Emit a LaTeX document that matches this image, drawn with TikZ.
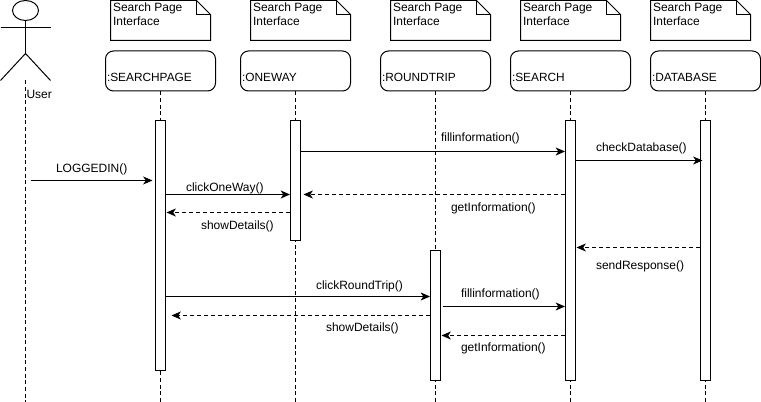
\documentclass[tikz,border=0pt]{standalone}
\usepackage{fontspec}
\setmainfont{Liberation Sans}
\usetikzlibrary{arrows.meta}
\tikzset{
	notetext/.style={anchor=north west,inner sep=0pt,align=left,font=\fontsize{9pt}{10.5pt}\selectfont},
	headbox/.style={draw,rounded corners=6pt,minimum height=30pt,inner sep=0pt,anchor=north},
	headtext/.style={anchor=base west,inner sep=0pt,font=\fontsize{8.9pt}{10.5pt}\selectfont},
	msgtext/.style={anchor=base west,inner sep=0pt,font=\fontsize{9pt}{10.5pt}\selectfont},
	lifebar/.style={draw,fill=white,minimum width=7.5pt,inner sep=0pt,anchor=north},
	lifeline/.style={densely dashed,dash pattern=on 3pt off 2pt},
	msgcall/.style={-{Stealth[length=7pt,width=6pt,inset=2pt]}},
	msgback/.style={msgcall,dash pattern=on 3pt off 2.2pt},
}
\newcommand{\notesheet}[2]{%
	\draw (#1,0) -- ++(86,0) -- ++(14,14) -- (#1+100,40) -- (#1,40) -- cycle;
	\draw (#1+86,0) -- ++(0,14) -- ++(14,0);
	\node[notetext] (#2) at (#1+2,1.5) {Search Page\\Interface};
}
\begin{document}
\begin{tikzpicture}[x=.75pt,y=-.75pt,line width=.75pt]
	\useasboundingbox (-.5,-.5) rectangle (760.5,401.5);
	% actor
	\draw (25,10) ellipse (13 and 10);
	\draw (0,27) -- (50,27);
	\draw (25,20) -- (25,53);
	\draw (0,80) -- (25,53) -- (50,80);
	\node[msgtext] (usertext) at (25.5,98) {User};
	\coordinate (userTop) at (25,80);
	\coordinate (userEnd) at (25,402);
	% notes
	\notesheet{110}{noteSearchpage}
	\notesheet{250}{noteOneway}
	\notesheet{390}{noteRoundtrip}
	\notesheet{520}{noteSearch}
	\notesheet{650}{noteDatabase}
	% heads
	\node[headbox,minimum width=82.5pt] (searchpage) at (160,50) {};
	\node[headbox,minimum width=82.5pt] (oneway) at (295,50) {};
	\node[headbox,minimum width=82.5pt] (roundtrip) at (435,50) {};
	\node[headbox,minimum width=90pt] (search) at (570,50) {};
	\node[headbox,minimum width=82.5pt] (database) at (705,50) {};
	\node[headtext] (searchpagetext) at (106,81) {:SEARCHPAGE};
	\node[headtext] (onewaytext) at (241,81) {:ONEWAY};
	\node[headtext] (roundtriptext) at (381,81) {:ROUNDTRIP};
	\node[headtext] (searchtext) at (511,81) {:SEARCH};
	\node[headtext] (databasetext) at (651,81) {:DATABASE};
	% lifelines
	\coordinate (searchpageEnd) at (160,402);
	\coordinate (onewayEnd) at (295,402);
	\coordinate (roundtripEnd) at (435,402);
	\coordinate (searchEnd) at (570,402);
	\coordinate (databaseEnd) at (705,402);
	\draw[lifeline] (userTop) -- (userEnd);
	\draw[lifeline] (searchpage.south) -- (searchpageEnd);
	\draw[lifeline] (oneway.south) -- (onewayEnd);
	\draw[lifeline] (roundtrip.south) -- (roundtripEnd);
	\draw[lifeline] (search.south) -- (searchEnd);
	\draw[lifeline] (database.south) -- (databaseEnd);
	% bars
	\node[lifebar,minimum height=187.5pt] (barSearchpage) at (160,120) {};
	\node[lifebar,minimum height=90pt] (barOneway) at (295,120) {};
	\node[lifebar,minimum height=97.5pt] (barRoundtrip) at (435,250) {};
	\node[lifebar,minimum height=195pt] (barSearch) at (570,120) {};
	\node[lifebar,minimum height=195pt] (barDatabase) at (705,120) {};
	% free ends of the messages
	\coordinate (loggedStart) at (30,180);
	\coordinate (loggedEnd) at (152,180);
	\coordinate (checkEnd) at (702,160);
	\coordinate (getOneEnd) at (303,194);
	\coordinate (showOneEnd) at (166,212);
	\coordinate (sendEnd) at (576,247);
	\coordinate (showTwoEnd) at (171,315);
	\coordinate (fillTwoStart) at (442,306);
	\coordinate (getTwoEnd) at (441,335);
	% messages
	\draw[msgcall] (loggedStart) -- (loggedEnd);
	\draw[msgcall] (barSearchpage.east |- 0,194) -- (barOneway.west |- 0,194);
	\draw[msgcall] (barOneway.east |- 0,151) -- (barSearch.west |- 0,151);
	\draw[msgcall] (barSearch.east |- 0,160) -- (checkEnd);
	\draw[msgback] (barSearch.west |- 0,194) -- (getOneEnd);
	\draw[msgback] (barOneway.west |- 0,212) -- (showOneEnd);
	\draw[msgback] (barDatabase.west |- 0,247) -- (sendEnd);
	\draw[msgcall] (barSearchpage.east |- 0,296) -- (barRoundtrip.west |- 0,296);
	\draw[msgback] (barRoundtrip.west |- 0,315) -- (showTwoEnd);
	\draw[msgcall] (fillTwoStart) -- (barSearch.west |- 0,306);
	\draw[msgback] (barSearch.west |- 0,335) -- (getTwoEnd);
	% message labels
	\node[msgtext] (loggedtext) at (55,172) {LOGGEDIN()};
	\node[msgtext] (clickonetext) at (185,191) {clickOneWay()};
	\node[msgtext] (filltext) at (440,141) {fillinformation()};
	\node[msgtext] (checktext) at (595,151) {checkDatabase()};
	\node[msgtext] (gettext) at (450,211) {getInformation()};
	\node[msgtext] (showtext) at (200,229) {showDetails()};
	\node[msgtext] (sendtext) at (595,269) {sendResponse()};
	\node[msgtext] (clickroundtext) at (315,289) {clickRoundTrip()};
	\node[msgtext] (filltwotext) at (460,297) {fillinformation()};
	\node[msgtext] (showtwotext) at (325,331) {showDetails()};
	\node[msgtext] (gettwotext) at (460,351) {getInformation()};
\end{tikzpicture}
\end{document}
